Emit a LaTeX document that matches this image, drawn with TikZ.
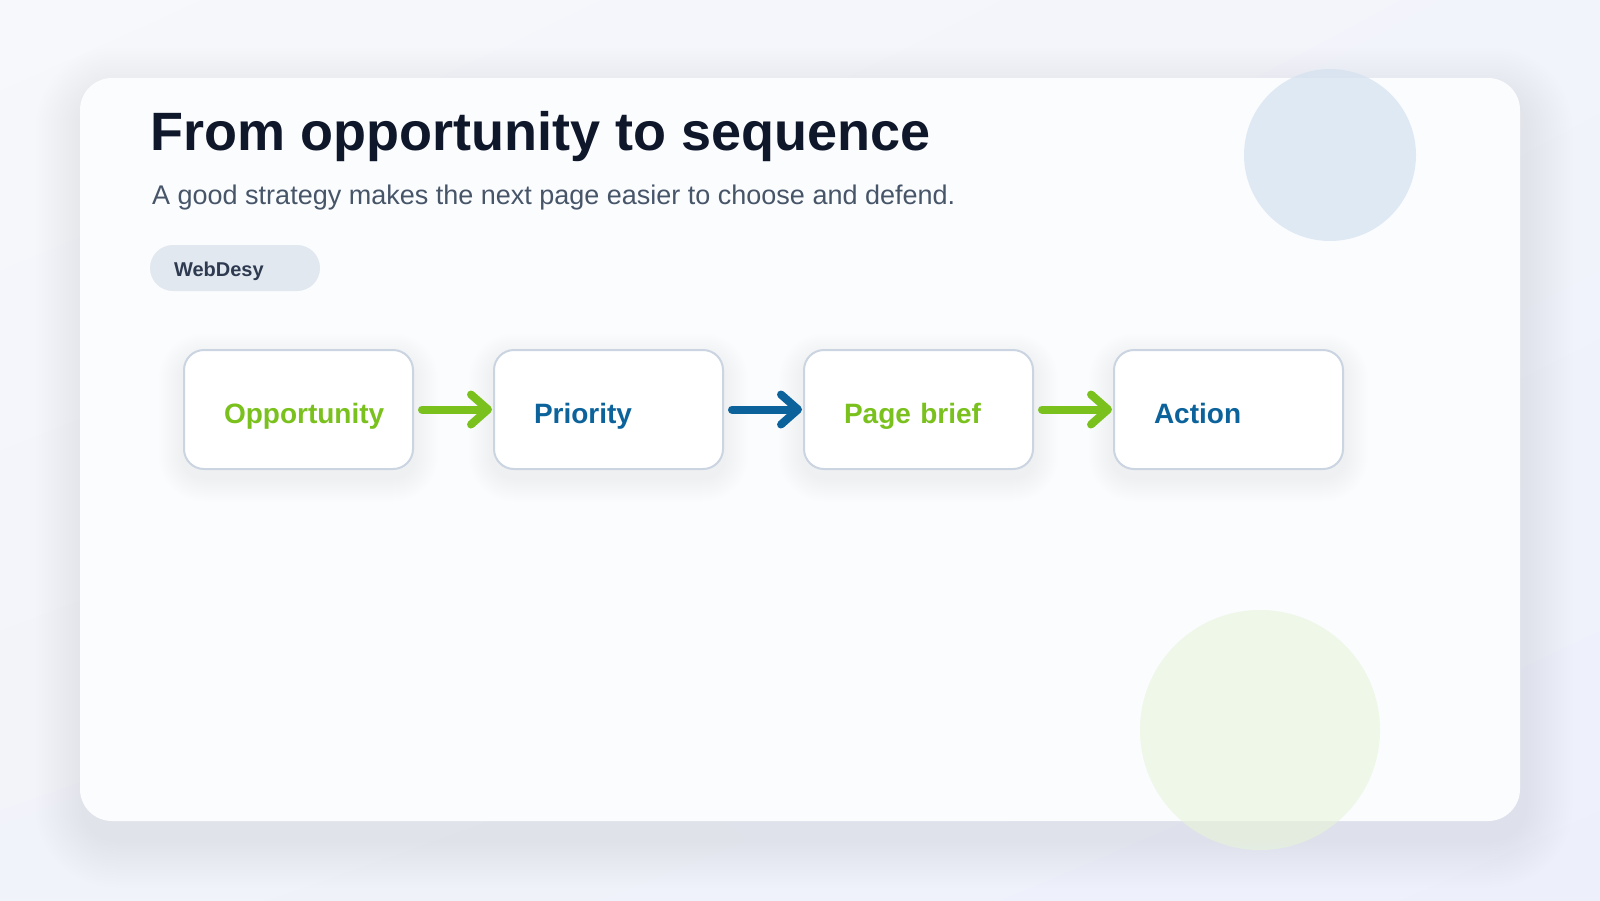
\documentclass[tikz,border=0pt]{standalone}
\usepackage{fontspec}
\setmainfont{Liberation Sans}
\usetikzlibrary{positioning,arrows.meta,shadings}
\definecolor{ink}{RGB}{15,23,42}
\definecolor{slate}{RGB}{71,85,105}
\definecolor{chip}{RGB}{226,232,240}
\definecolor{chipink}{RGB}{45,58,80}
\definecolor{lime}{RGB}{122,193,30}
\definecolor{deepblue}{RGB}{12,99,155}
\definecolor{edge}{RGB}{203,212,225}
\definecolor{cardfill}{RGB}{251,252,254}
\definecolor{haze}{RGB}{200,206,230}
\definecolor{boxhaze}{RGB}{212,215,224}
\definecolor{bluedot}{RGB}{212,226,240}
\definecolor{greendot}{RGB}{232,244,218}
\definecolor{bgtl}{RGB}{247,248,251}
\definecolor{bgtr}{RGB}{242,244,251}
\definecolor{bgbl}{RGB}{241,243,250}
\definecolor{bgbr}{RGB}{237,240,251}

\begin{document}
\begin{tikzpicture}[x=1pt,y=-1pt,
  stepbox/.style={draw=edge,line width=2pt,fill=white,rounded corners=20pt,minimum width=229pt,minimum height=119pt,
    inner xsep=40pt,inner ysep=0pt,text width=149pt,align=left,text height=29pt,text depth=2pt,
    font=\fontsize{28}{32}\selectfont\bfseries},
  flow/.style={line width=8pt,line cap=round,shorten <=8pt,shorten >=1pt,
    -{Straight Barb[length=17pt,width=30pt,line cap=round,line join=round]}}]
\path[use as bounding box] (0,0) rectangle (1600,900);
\shade[upper left=bgtl,upper right=bgtr,lower left=bgbl,lower right=bgbr] (0,0) rectangle (1600,900);
\foreach \i in {1,...,16}
  \fill[haze,opacity=0.02,rounded corners={(32+3*\i)*1pt}] (84-3*\i,96-3*\i) rectangle (1524+3*\i,839+3*\i);
\fill[cardfill,rounded corners=32pt] (80,78) rectangle (1520,821);
\fill[bluedot,opacity=0.7] (1330,155) circle (86pt);
\fill[greendot,opacity=0.6] (1260,730) circle (120pt);
\node[anchor=base west,inner sep=0,text=ink,font=\fontsize{54}{60}\selectfont\bfseries] (title) at (150,150) {From opportunity to sequence};
\node[anchor=base west,inner sep=0,text=slate,font=\fontsize{27}{32}\selectfont] (sub) at (152,204) {A good strategy makes the next page easier to choose and defend.};
\node[fill=chip,rounded corners=23pt,minimum width=170pt,minimum height=46pt,inner xsep=24pt,inner ysep=0pt,text width=122pt,align=left,
  text height=16pt,text depth=0pt,text=chipink,font=\fontsize{20}{24}\selectfont\bfseries] (tag) at (235,268) {WebDesy};
\foreach \cx in {298.5,608.5,918.5,1228.5}
  \foreach \i in {1,...,12}
    \fill[boxhaze,opacity=0.018,rounded corners={(20+2*\i)*1pt}] (\cx-115-2*\i,358-2*\i) rectangle (\cx+115+2*\i,477+2*\i);
\node[stepbox,text=lime] (b1) at (298.5,409.5) {Opportunity};
\node[stepbox,text=deepblue,right=79pt of b1] (b2) {Priority};
\node[stepbox,text=lime,right=79pt of b2] (b3) {Page brief};
\node[stepbox,text=deepblue,right=79pt of b3] (b4) {Action};
\draw[flow,lime] (b1) -- (b2);
\draw[flow,deepblue] (b2) -- (b3);
\draw[flow,lime] (b3) -- (b4);
\end{tikzpicture}
\end{document}
